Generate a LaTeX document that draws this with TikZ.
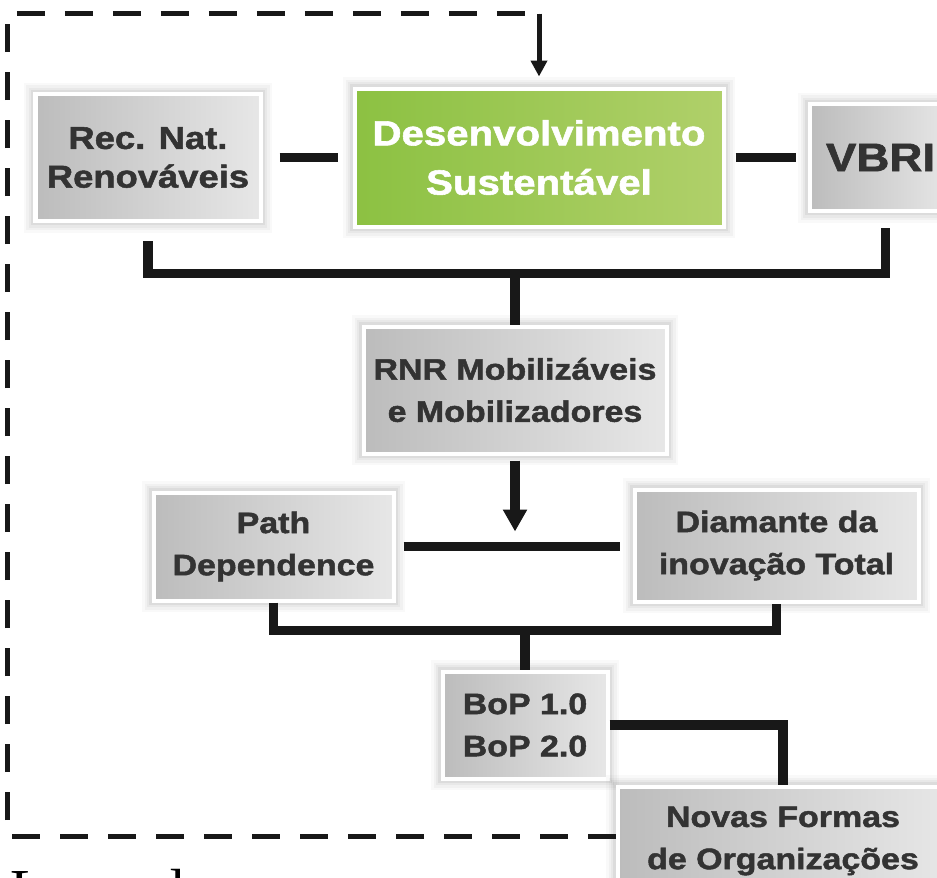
\documentclass[tikz,border=0pt]{standalone}
\usepackage{fontspec}
\setmainfont{Liberation Serif}
\newfontfamily\boxfont{Liberation Sans}[FakeStretch=1.15, FakeBold=1.6]
\usepackage{xcolor}
\usepackage{tikz}
\usetikzlibrary{arrows.meta,positioning,calc}
\definecolor{boxdark}{RGB}{188,188,188}
\definecolor{boxlight}{RGB}{231,231,231}
\definecolor{greendark}{RGB}{140,193,66}
\definecolor{greenlight}{RGB}{176,208,106}
\definecolor{textgray}{RGB}{51,51,51}
\definecolor{linegray}{RGB}{24,24,24}

\begin{document}
\begin{tikzpicture}[
    softshadow/.style={
        preaction={draw=black, draw opacity=0.025, line width=0.46cm},
        preaction={draw=black, draw opacity=0.03, line width=0.36cm},
        preaction={draw=black, draw opacity=0.04, line width=0.26cm},
        preaction={draw=black, draw opacity=0.05, line width=0.17cm}},
    box/.style={softshadow, draw=white, line width=0.08cm, inner sep=0pt, align=center, text=textgray,
        font=\boxfont\bfseries\fontsize{16.8}{24}\selectfont},
    graybox/.style={box, left color=boxdark, right color=boxlight},
    greenbox/.style={box, left color=greendark, right color=greenlight, text=white,
        font=\boxfont\bfseries\fontsize{19.9}{28}\selectfont},
    bar/.style={line width=0.19cm, draw=linegray},
    arrow/.style={bar, -{Triangle[width=0.46cm,length=0.44cm]}},
    feedback/.style={line width=0.1cm, draw=linegray, dash pattern=on 0.56cm off 0.4cm},
    fbarrow/.style={line width=0.1cm, draw=linegray, fill=linegray, -{Triangle[width=0.32cm,length=0.32cm]}}
]
    \useasboundingbox (0,0) rectangle (18.74,-17.54);

    \node[greenbox, minimum width=7.38cm, minimum height=2.76cm] (desenv) at (10.78,-3.15) {Desenvolvimento\\Sustentável};
    \node[graybox, minimum width=4.5cm, minimum height=2.54cm, left=1.8cm of desenv,
        font=\boxfont\bfseries\fontsize{18}{22}\selectfont] (rec) {Rec. Nat.\\Renováveis};
    \node[graybox, minimum width=2.84cm, minimum height=2.14cm, right=1.64cm of desenv,
        font=\boxfont\bfseries\fontsize{22.6}{26}\selectfont] (vbri) {VBRI};
    \node[graybox, minimum width=6.06cm, minimum height=2.54cm, below=1.92cm of desenv, xshift=-0.48cm] (rnr) {RNR Mobilizáveis\\e Mobilizadores};
    \node[graybox, minimum width=4.8cm, minimum height=2.16cm, below left=0.7cm and -0.68cm of rnr] (path) {Path\\Dependence};
    \node[graybox, minimum width=5.68cm, minimum height=2.24cm, below right=0.64cm and -0.72cm of rnr] (diam) {Diamante da\\inovação Total};
    \node[graybox, minimum width=3.3cm, minimum height=2.14cm, below=4.28cm of rnr, xshift=0.2cm] (bop) {BoP 1.0\\BoP 2.0};
    \node[graybox, minimum width=6.62cm, minimum height=2.18cm, below right=0.08cm and 0.12cm of bop] (novas) {Novas Formas\\de Organizações};

    \node[anchor=base west, inner sep=0pt, font=\fontsize{33}{36}\selectfont] (legenda) at (0.2,-18.18) {Legenda};

    % Top row
    \draw[bar, shorten <=0.34cm, shorten >=0.3cm] (rec.east) -- (rec.east -| desenv.west);
    \draw[bar, shorten <=0.2cm, shorten >=0.24cm] (desenv.east |- vbri.west) -- (vbri.west);

    % Join to RNR
    \coordinate (join1) at ([yshift=1.02cm]rnr.north);
    \draw[bar] ([yshift=-0.36cm]rec.south) |- (join1) -| ([xshift=0.1cm, yshift=-0.3cm]vbri.south);
    \draw[bar] (join1) -- (rnr.north);

    % RNR down to the middle row
    \coordinate (join2) at (rnr.south |- path.east);
    \draw[arrow, shorten <=0.1cm, shorten >=0.3cm] (rnr.south) -- (join2);
    \draw[bar, shorten <=0.16cm, shorten >=0.26cm] (path.east) -- (path.east -| diam.west);

    % Join to BoP
    \coordinate (join3) at ([yshift=0.78cm]bop.north);
    \draw[bar] (path.south) |- (join3) -| (diam.south);
    \draw[bar] (join3) -- (bop.north);
    \draw[bar] (bop.east) -| (novas.north);

    % Feedback loop
    \coordinate (fbot) at ([yshift=0.1cm]novas.west);
    \coordinate (fleft) at ([xshift=-0.52cm]rec.west);
    \coordinate (ftop) at ([yshift=1.46cm]desenv.north);
    \draw[feedback] (fbot) -| (fleft) |- (ftop);
    \draw[fbarrow, shorten >=0.2cm] (ftop) -- (desenv.north);
\end{tikzpicture}
\end{document}
